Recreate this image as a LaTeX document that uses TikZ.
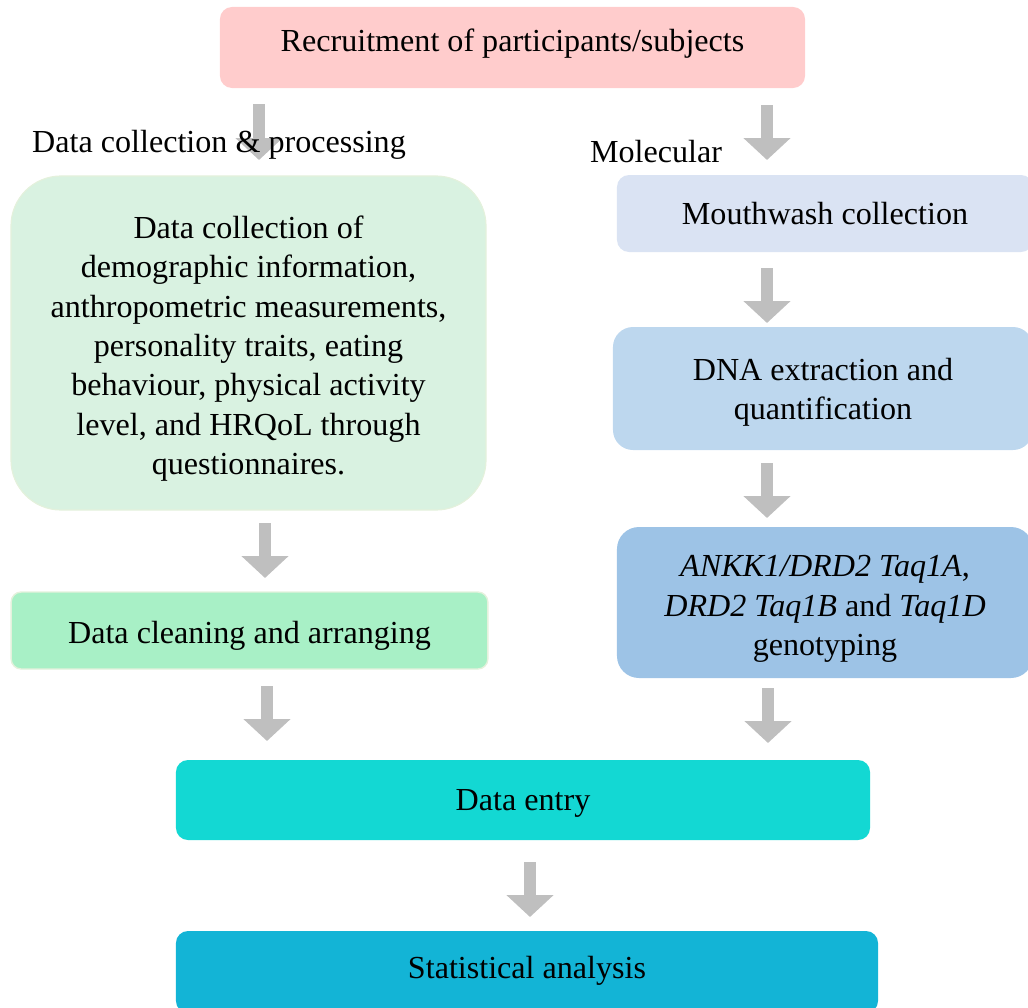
\documentclass[tikz,border=0pt]{standalone}
\usepackage{fontspec}
\setmainfont{Liberation Serif}
\usetikzlibrary{arrows.meta}
\definecolor{recpink}{HTML}{FFCCCC}
\definecolor{palegreen}{HTML}{D9F2E1}
\definecolor{paleedge}{HTML}{E4F1DC}
\definecolor{mintgreen}{HTML}{A8F0C6}
\definecolor{paleblue}{HTML}{DAE3F3}
\definecolor{midblue}{HTML}{BDD7EE}
\definecolor{deepblue}{HTML}{9DC3E6}
\definecolor{turq}{HTML}{13D8D3}
\definecolor{cyanblue}{HTML}{13B4D6}
\definecolor{arrowgrey}{HTML}{BFBFBF}
\tikzset{
  stepbox/.style={rectangle, rounded corners=0.36cm, inner sep=0pt},
  steptext/.style={align=center, inner sep=0pt},
  blk/.style={arrowgrey, line width=0.36cm, -{Triangle[length=0.66cm, width=1.38cm]}},
}
\begin{document}
\begin{tikzpicture}[x=0.03cm, y=-0.03cm, every node/.style={font=\fontsize{27.4}{33.6}\selectfont}]
  \useasboundingbox (0,0) rectangle (1028,1008);
  % top box
  \node[stepbox, fill=recpink, minimum width=17.55cm, minimum height=2.43cm] (rec) at (512.5,47.5) {};
  \node[steptext] (rect) at ([yshift=0.12cm]rec.center) {Recruitment of participants/subjects};
  % left column
  \node[stepbox, rounded corners=1.5cm, fill=palegreen, draw=paleedge, line width=1pt, minimum width=14.25cm, minimum height=10.02cm] (dcol) at (248.5,343) {};
  \node[steptext] (dcolt) at ([yshift=-0.17cm]dcol.center)
    {Data collection of\\ demographic information,\\ anthropometric measurements,\\ personality traits, eating\\ behaviour, physical activity\\ level, and HRQoL through\\ questionnaires.};
  \node[stepbox, rounded corners=0.3cm, fill=mintgreen, draw=paleedge, line width=1.2pt, minimum width=14.3cm, minimum height=2.31cm] (clean) at (249.5,630.5) {};
  \node[steptext] (cleant) at ([yshift=-0.15cm]clean.center) {Data cleaning and arranging};
  % right column
  \node[stepbox, fill=paleblue, minimum width=12.48cm, minimum height=2.31cm] (mouth) at (825,213.5) {};
  \node[steptext] (moutht) at (mouth.center) {Mouthwash collection};
  \node[stepbox, rounded corners=0.6cm, fill=midblue, minimum width=12.6cm, minimum height=3.69cm] (dna) at (823,388.5) {};
  \node[steptext] (dnat) at ([yshift=-0.12cm]dna.center) {DNA extraction and\\ quantification};
  \node[stepbox, rounded corners=0.66cm, fill=deepblue, minimum width=12.48cm, minimum height=4.53cm] (geno) at (825,602.5) {};
  \node[steptext] (genot) at ([yshift=-0.2cm]geno.center)
    {\textit{ANKK1/DRD2 Taq1A},\\ \textit{DRD2 Taq1B} and \textit{Taq1D}\\ genotyping};
  % bottom boxes
  \node[stepbox, fill=turq, minimum width=20.82cm, minimum height=2.4cm] (entry) at (523,800) {};
  \node[steptext] (entryt) at ([yshift=-0.1cm]entry.center) {Data entry};
  \node[stepbox, fill=cyanblue, minimum width=21.06cm, minimum height=2.46cm] (stats) at (527,972) {};
  \node[steptext] (statst) at ([yshift=0.03cm]stats.center) {Statistical analysis};
  % block arrows
  \foreach \n/\x/\ya/\yb in {a1/259/104/160, a2/767/105/160, a3/265/523/578, a4/267/686/741,
                             a5/767/268/323, a6/767/463/518, a7/768/688/743, a8/530/862/917} {
    \coordinate (\n s) at (\x,\ya);
    \coordinate (\n e) at (\x,\yb);
    \draw[blk] (\n s) -- (\n e);
  }
  % column headings, over the arrows
  \node (lhead) at (219,145) {Data collection \& processing};
  \node (rhead) at (656,152) {Molecular};
\end{tikzpicture}
\end{document}
